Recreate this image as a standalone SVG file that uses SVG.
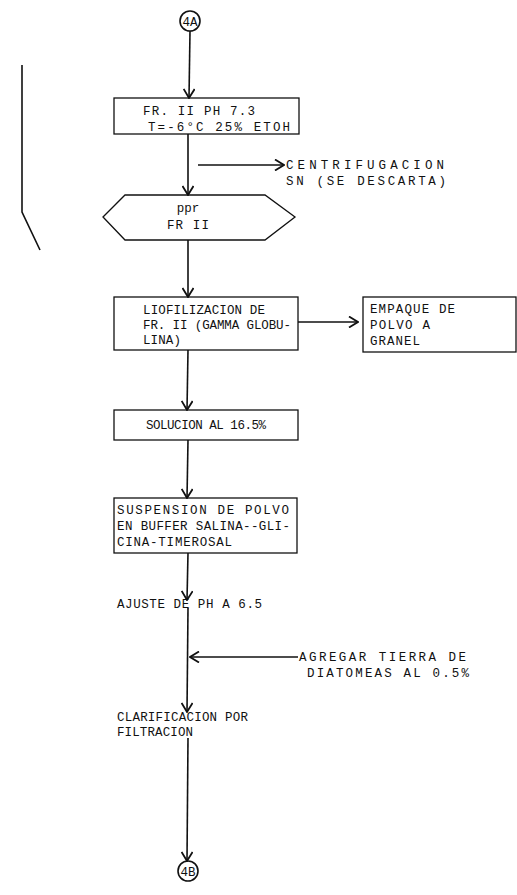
<svg xmlns="http://www.w3.org/2000/svg" width="517" height="895" viewBox="0 0 517 895">
<style>
text{font-family:"Liberation Mono","DejaVu Sans Mono",monospace;font-size:12.5px;fill:#111}
.b{fill:none;stroke:#111;stroke-width:1.3}
.c{fill:none;stroke:#111;stroke-width:1.6}
</style>
<defs>
<marker id="v" viewBox="-10 -6 11 12" refX="0" refY="0" markerWidth="11" markerHeight="12" markerUnits="userSpaceOnUse" orient="auto">
<path d="M-9,-5.5 L0,0 L-9,5.5" fill="none" stroke="#111" stroke-width="1.8"/>
</marker>
</defs>
<rect width="517" height="895" fill="#fff"/>
<g id="connectors">
<line class="c" x1="190" y1="31" x2="189" y2="98" marker-end="url(#v)"/>
<line class="c" x1="188" y1="134" x2="188" y2="195" marker-end="url(#v)"/>
<line class="c" x1="198" y1="165" x2="284" y2="165" marker-end="url(#v)"/>
<line class="c" x1="188" y1="240" x2="188" y2="297" marker-end="url(#v)"/>
<line class="c" x1="298" y1="322" x2="358" y2="322" marker-end="url(#v)"/>
<line class="c" x1="188" y1="350" x2="187" y2="410" marker-end="url(#v)"/>
<line class="c" x1="188" y1="440" x2="187" y2="498" marker-end="url(#v)"/>
<line class="c" x1="188" y1="553" x2="187" y2="600" marker-end="url(#v)"/>
<line class="c" x1="188" y1="608" x2="187" y2="712" marker-end="url(#v)"/>
<line class="c" x1="298" y1="657" x2="190" y2="657" marker-end="url(#v)"/>
<line class="c" x1="188" y1="738" x2="187" y2="861" marker-end="url(#v)"/>
<polyline class="c" points="22,65 22,212 40,250"/>
</g>
<g id="n4A"><circle class="c" cx="190" cy="21" r="10"/><text x="190" y="25.5" text-anchor="middle">4A</text></g>
<g id="box1"><rect class="b" x="114" y="98" width="185" height="36"/>
<text x="143" y="115" textLength="112" lengthAdjust="spacing">FR. II PH 7.3</text><text x="148" y="131" textLength="142" lengthAdjust="spacing">T=-6°C 25% ETOH</text></g>
<g id="centrif"><text x="286" y="169" textLength="158" lengthAdjust="spacing">CENTRIFUGACION</text><text x="286" y="185" textLength="160" lengthAdjust="spacing">SN (SE DESCARTA)</text></g>
<g id="ppr"><polygon class="b" points="103,217 125,195 265,195 295,217 265,240 125,240"/>
<text x="188" y="212" text-anchor="middle">ppr</text><text x="188" y="229" text-anchor="middle" textLength="42" lengthAdjust="spacing">FR II</text></g>
<g id="box2"><rect class="b" x="114" y="297" width="184" height="53"/>
<text x="143" y="314" textLength="122" lengthAdjust="spacing">LIOFILIZACION  DE</text><text x="143" y="329" textLength="148" lengthAdjust="spacing">FR. II (GAMMA GLOBU-</text><text x="143" y="344" textLength="38" lengthAdjust="spacing">LINA)</text></g>
<g id="box3"><rect class="b" x="363" y="297" width="153" height="55"/>
<text x="370" y="313" textLength="85" lengthAdjust="spacing">EMPAQUE DE</text><text x="370" y="329" textLength="60" lengthAdjust="spacing">POLVO A</text><text x="370" y="345" textLength="50" lengthAdjust="spacing">GRANEL</text></g>
<g id="box4"><rect class="b" x="114" y="410" width="184" height="30"/>
<text x="146" y="429" textLength="120" lengthAdjust="spacing">SOLUCION AL 16.5%</text></g>
<g id="box5"><rect class="b" x="114" y="498" width="183" height="55"/>
<text x="117" y="514" textLength="172" lengthAdjust="spacing">SUSPENSION DE POLVO</text><text x="117" y="530" textLength="173" lengthAdjust="spacing">EN BUFFER SALINA--GLI-</text><text x="117" y="546" textLength="115" lengthAdjust="spacing">CINA-TIMEROSAL</text></g>
<g id="ajuste"><text x="117" y="608" textLength="145" lengthAdjust="spacing">AJUSTE DE PH A 6.5</text></g>
<g id="agregar"><text x="299" y="661" textLength="167" lengthAdjust="spacing">AGREGAR TIERRA DE</text><text x="307" y="677" textLength="162" lengthAdjust="spacing">DIATOMEAS AL 0.5%</text></g>
<g id="clarif"><text x="117" y="721" textLength="131" lengthAdjust="spacing">CLARIFICACION POR</text><text x="117" y="736" textLength="76" lengthAdjust="spacing">FILTRACION</text></g>
<g id="n4B"><circle class="c" cx="188" cy="871" r="10"/><text x="188" y="875.5" text-anchor="middle">4B</text></g>
</svg>
